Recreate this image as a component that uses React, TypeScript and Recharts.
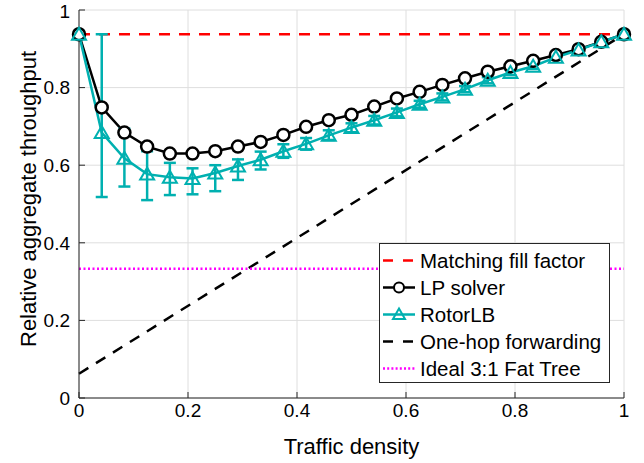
import {
  LineChart,
  Line,
  XAxis,
  YAxis,
  CartesianGrid,
  ErrorBar,
  Legend,
} from 'recharts'

const FONT = '"Liberation Sans", Arial, Helvetica, sans-serif'
const CYAN = '#00b0b0'
const AXIS = '#262626'

// traffic density (x), 25 samples
const DENSITY = [
  0, 0.0417, 0.0833, 0.125, 0.1667, 0.2083, 0.25, 0.2917, 0.3333, 0.375,
  0.4167, 0.4583, 0.5, 0.5417, 0.5833, 0.625, 0.6667, 0.7083, 0.75, 0.7917,
  0.8333, 0.875, 0.9167, 0.9583, 1,
]

const LP_SOLVER = [
  0.9375, 0.749, 0.684, 0.648, 0.63, 0.63, 0.636, 0.648, 0.66, 0.678, 0.699,
  0.716, 0.73, 0.751, 0.772, 0.789, 0.807, 0.824, 0.841, 0.855, 0.869, 0.884,
  0.899, 0.918, 0.9375,
]

const ROTOR_LB = [
  0.9375, 0.684, 0.618, 0.577, 0.569, 0.566, 0.58, 0.598, 0.614, 0.636, 0.655,
  0.677, 0.697, 0.716, 0.736, 0.757, 0.776, 0.796, 0.819, 0.839, 0.855, 0.878,
  0.897, 0.918, 0.9375,
]

const ROTOR_LOW = [
  0.9375, 0.518, 0.545, 0.51, 0.523, 0.525, 0.533, 0.562, 0.589, 0.619, 0.64,
  0.665, 0.685, 0.705, 0.726, 0.748, 0.767, 0.788, 0.811, 0.832, 0.848, 0.872,
  0.892, 0.914, 0.9375,
]

const ROTOR_HIGH = [
  0.9375, 0.9375, 0.694, 0.636, 0.606, 0.592, 0.6, 0.615, 0.635, 0.654, 0.67,
  0.69, 0.708, 0.727, 0.746, 0.766, 0.785, 0.804, 0.827, 0.846, 0.862, 0.884,
  0.902, 0.922, 0.9375,
]

// straight reference lines, values at x = 0 and x = 1
const FILL_FACTOR = [0.9375, 0.9375]
const ONE_HOP = [0.0625, 0.9375]
const FAT_TREE = [0.3333, 0.3333]

const TICKS = [0, 0.2, 0.4, 0.6, 0.8, 1]

const last = DENSITY.length - 1
const ends = (arr: number[], i: number) =>
  i === 0 ? arr[0] : i === last ? arr[1] : null

const data = DENSITY.map((x, i) => ({
  x,
  lp: LP_SOLVER[i],
  rotor: ROTOR_LB[i],
  rotorErr:
    ROTOR_HIGH[i] - ROTOR_LOW[i] > 0.001
      ? [ROTOR_LB[i] - ROTOR_LOW[i], ROTOR_HIGH[i] - ROTOR_LB[i]]
      : null,
  fill: ends(FILL_FACTOR, i),
  oneHop: ends(ONE_HOP, i),
  fatTree: ends(FAT_TREE, i),
}))

const LEGEND_ITEMS = [
  { name: 'Matching fill factor', color: '#ff0000', dash: '10 10', marker: '' },
  { name: 'LP solver', color: '#000000', dash: '', marker: 'circle' },
  { name: 'RotorLB', color: CYAN, dash: '', marker: 'triangle' },
  { name: 'One-hop forwarding', color: '#000000', dash: '10 10', marker: '' },
  { name: 'Ideal 3:1 Fat Tree', color: '#ff00ff', dash: '2 2.2', marker: '' },
]

const Triangle = (props: any) => {
  const { cx, cy } = props
  if (cx == null || cy == null) return null
  return (
    <path
      d={`M${cx},${cy - 6.5} L${cx + 7},${cy + 5.5} L${cx - 7},${cy + 5.5} Z`}
      fill="none"
      stroke={CYAN}
      strokeWidth={2}
    />
  )
}

const LegendBox = () => (
  <div
    style={{
      width: 231,
      height: 140,
      boxSizing: 'border-box',
      border: `1px solid ${AXIS}`,
      background: '#fff',
      paddingTop: 3,
      fontFamily: FONT,
      fontSize: 20.5,
      color: '#000',
    }}
  >
    {LEGEND_ITEMS.map((it) => (
      <div
        key={it.name}
        style={{ height: 27, display: 'flex', alignItems: 'center' }}
      >
        <svg width={40} height={27} style={{ flex: 'none' }}>
          <line
            x1={3}
            x2={35}
            y1={13.5}
            y2={13.5}
            stroke={it.color}
            strokeWidth={2.5}
            strokeDasharray={it.dash || undefined}
          />
          {it.marker === 'circle' && (
            <circle cx={19} cy={13.5} r={5} fill="#fff" stroke="#000" strokeWidth={2} />
          )}
          {it.marker === 'triangle' && (
            <path d="M19,7.5 L25,18 L13,18 Z" fill="none" stroke={CYAN} strokeWidth={2} />
          )}
        </svg>
        <span style={{ whiteSpace: 'nowrap' }}>{it.name}</span>
      </div>
    ))}
  </div>
)

const YLabel = (props: any) => {
  const { viewBox } = props
  const cy = viewBox.y + viewBox.height / 2 - 5
  return (
    <text
      x={28}
      y={cy}
      transform={`rotate(-90 28 ${cy})`}
      textAnchor="middle"
      dominantBaseline="central"
      fontFamily={FONT}
      fontSize={22}
      fill="#000"
    >
      Relative aggregate throughput
    </text>
  )
}

export default function App() {
  const tickStyle = { fontFamily: FONT, fontSize: 19, fill: '#000' }
  return (
    <div style={{ position: 'absolute', left: 0, top: 0, background: '#fff' }}>
      <LineChart
        width={644}
        height={463}
        data={data}
        margin={{ top: 10, right: 20, bottom: 0, left: 0 }}
      >
        <CartesianGrid stroke="#dedede" strokeWidth={1} />
        <XAxis
          dataKey="x"
          type="number"
          domain={[0, 1]}
          ticks={TICKS}
          height={65}
          tick={tickStyle}
          tickSize={-6}
          tickMargin={12}
          stroke={AXIS}
          label={{
            value: 'Traffic density',
            position: 'insideBottom',
            offset: 9,
            fontFamily: FONT,
            fontSize: 22,
            fill: '#000',
          }}
        />
        <XAxis
          xAxisId="top"
          dataKey="x"
          type="number"
          orientation="top"
          domain={[0, 1]}
          ticks={TICKS}
          height={0}
          tickSize={-6}
          tick={() => <g />}
          stroke={AXIS}
        />
        <YAxis
          type="number"
          domain={[0, 1]}
          ticks={TICKS}
          width={79}
          tick={tickStyle}
          tickSize={-6}
          tickMargin={15}
          stroke={AXIS}
          label={<YLabel />}
        />
        <YAxis
          yAxisId="right"
          orientation="right"
          type="number"
          domain={[0, 1]}
          ticks={TICKS}
          width={0}
          tickSize={-6}
          tick={() => <g />}
          stroke={AXIS}
        />
        <Legend
          layout="vertical"
          align="center"
          verticalAlign="middle"
          content={<LegendBox />}
          wrapperStyle={{ left: 379, top: 243, width: 231, height: 140 }}
        />
        <Line
          dataKey="fill"
          name="Matching fill factor"
          stroke="#ff0000"
          strokeWidth={2.5}
          strokeDasharray="11 9"
          dot={false}
          connectNulls
          isAnimationActive={false}
        />
        <Line
          dataKey="lp"
          name="LP solver"
          stroke="#000"
          strokeWidth={2.5}
          dot={{ r: 6, fill: '#fff', stroke: '#000', strokeWidth: 2.5 }}
          isAnimationActive={false}
        />
        <Line
          dataKey="rotor"
          name="RotorLB"
          stroke={CYAN}
          strokeWidth={2.5}
          dot={<Triangle />}
          isAnimationActive={false}
        >
          <ErrorBar
            dataKey="rotorErr"
            direction="y"
            width={6}
            stroke={CYAN}
            strokeWidth={2.5}
          />
        </Line>
        <Line
          dataKey="oneHop"
          name="One-hop forwarding"
          stroke="#000"
          strokeWidth={2.5}
          strokeDasharray="11 9"
          dot={false}
          connectNulls
          isAnimationActive={false}
        />
        <Line
          dataKey="fatTree"
          name="Ideal 3:1 Fat Tree"
          stroke="#ff00ff"
          strokeWidth={2.5}
          strokeDasharray="2 2.5"
          dot={false}
          connectNulls
          isAnimationActive={false}
        />
      </LineChart>
    </div>
  )
}
